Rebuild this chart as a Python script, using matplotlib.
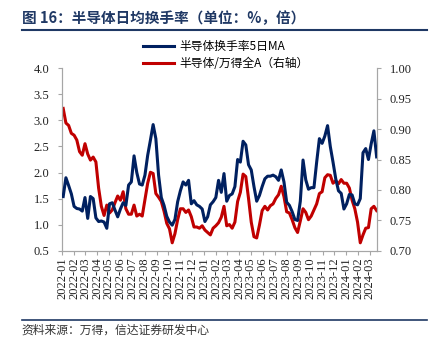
import numpy as np
import pandas as pd
import matplotlib
matplotlib.use('Agg')
import matplotlib.pyplot as plt
from matplotlib import dates as mdates
from matplotlib.lines import Line2D

plt.rcParams['font.family'] = ['Liberation Serif', 'Noto Sans CJK SC']

# weekly samples
week_start = '2022-01-04'
turnover_ma5 = [
    1.54, 1.90, 1.75, 1.59, 1.35, 1.31, 1.30, 1.26, 1.52, 1.12,
    1.54, 1.50, 1.13, 1.06, 1.07, 1.05, 0.93, 1.40, 1.42, 1.28,
    1.15, 1.30, 1.42, 1.37, 1.76, 1.82, 2.32, 2.00, 1.78, 1.76,
    1.95, 2.33, 2.62, 2.92, 2.65, 1.95, 1.52, 1.37, 1.16, 1.05,
    0.99, 1.10, 1.44, 1.65, 1.82, 1.76, 1.85, 1.40, 1.46, 1.38,
    1.35, 1.30, 1.06, 1.15, 1.38, 1.44, 1.52, 1.85, 1.62, 1.98,
    1.45, 1.56, 1.59, 1.73, 2.25, 2.20, 2.60, 2.53, 2.15, 2.05,
    1.73, 1.45, 1.56, 1.73, 1.88, 1.93, 1.93, 1.95, 1.92, 1.85,
    2.05, 1.82, 1.43, 1.37, 1.25, 1.10, 1.08, 1.45, 2.24, 1.86,
    1.68, 1.71, 1.71, 2.20, 2.65, 2.56, 2.70, 2.90, 2.50, 2.20,
    1.88, 1.65, 1.60, 1.30, 1.40, 1.58, 1.57, 1.40, 1.38, 1.50,
    2.38, 2.46, 2.25, 2.55, 2.80, 2.30,
]
ratio_vs_wind_a = [
    0.934, 0.910, 0.906, 0.893, 0.890, 0.882, 0.863, 0.857, 0.876, 0.859,
    0.849, 0.854, 0.846, 0.803, 0.773, 0.758, 0.775, 0.762, 0.767, 0.779,
    0.790, 0.783, 0.797, 0.769, 0.760, 0.760, 0.775, 0.757, 0.760, 0.757,
    0.784, 0.811, 0.829, 0.827, 0.794, 0.788, 0.781, 0.765, 0.745, 0.736,
    0.713, 0.728, 0.751, 0.769, 0.769, 0.763, 0.767, 0.756, 0.739, 0.739,
    0.737, 0.741, 0.734, 0.730, 0.726, 0.737, 0.741, 0.746, 0.755, 0.773,
    0.741, 0.743, 0.737, 0.747, 0.781, 0.796, 0.826, 0.822, 0.786, 0.747,
    0.723, 0.721, 0.742, 0.766, 0.773, 0.767, 0.774, 0.777, 0.786, 0.792,
    0.806, 0.789, 0.764, 0.762, 0.751, 0.738, 0.730, 0.749, 0.769, 0.763,
    0.751, 0.757, 0.767, 0.777, 0.794, 0.797, 0.820, 0.825, 0.824, 0.811,
    0.815, 0.810, 0.817, 0.811, 0.811, 0.803, 0.783, 0.769, 0.747, 0.713,
    0.726, 0.737, 0.738, 0.769, 0.773, 0.766,
]
left_ticks = [0.5, 1.0, 1.5, 2.0, 2.5, 3.0, 3.5, 4.0]
right_ticks = [0.70, 0.75, 0.80, 0.85, 0.90, 0.95, 1.00]
label_blue = '半导体换手率5日MA'
label_red = '半导体/万得全A（右轴）'
title = '图 16：半导体日均换手率（单位：%，倍）'
source = '资料来源：万得，信达证券研发中心'

t = pd.date_range(week_start, periods=len(turnover_ma5), freq='7D')

navy = '#002060'
red = '#c00000'
spine_c = '#a6a6a6'
cjk = ['Noto Sans CJK SC', 'DejaVu Sans']

fig = plt.figure(figsize=(4.34, 3.46), dpi=100)
ax = fig.add_axes([0.1429, 0.2754, 0.7258, 0.5272])
ax2 = ax.twinx()

ax.plot(t, turnover_ma5, color=navy, lw=2.2, zorder=3)
ax2.plot(t, ratio_vs_wind_a, color=red, lw=2.2)
ax.set_zorder(ax2.get_zorder() + 1)
ax.patch.set_visible(False)

ax.set_ylim(0.5, 4.0)
ax.set_yticks(left_ticks)
ax.set_yticklabels(['%.1f' % v for v in left_ticks])
ax2.set_ylim(0.70, 1.00)
ax2.set_yticks(right_ticks)
ax2.set_yticklabels(['%.2f' % v for v in right_ticks])

ax.set_xlim(pd.Timestamp('2022-01-01'), pd.Timestamp('2024-03-20'))
ax.xaxis.set_major_locator(mdates.MonthLocator())
ax.xaxis.set_major_formatter(mdates.DateFormatter('%Y-%m'))
for lab in ax.get_xticklabels():
    lab.set_rotation(90)

for a in (ax, ax2):
    a.spines['top'].set_visible(False)
    for s in ('left', 'right', 'bottom'):
        a.spines[s].set_color(spine_c)
        a.spines[s].set_linewidth(0.8)
    a.tick_params(axis='both', colors=spine_c, labelcolor='#222222',
                  labelsize=9, length=3, width=0.8)
ax.tick_params(axis='x', labelsize=9, pad=2)
ax.tick_params(axis='y', pad=6)
ax2.tick_params(axis='y', pad=6)

handles = [Line2D([], [], color=navy, lw=2.2), Line2D([], [], color=red, lw=2.2)]
fig.legend(handles, [label_blue, label_red], loc='upper left',
           bbox_to_anchor=(0.305, 0.915), frameon=False, handlelength=2.6,
           handletextpad=0.5, labelspacing=0.35, prop={'family': cjk, 'size': 8.5})

fig.text(0.05, 0.948, title, color='#1f3864', fontsize=10.5, fontweight='bold',
         family=cjk, va='center', ha='left')
fig.add_artist(Line2D([0.05, 0.985], [0.913, 0.913], color='#1f3864', lw=1.5,
                      transform=fig.transFigure))
fig.add_artist(Line2D([0.05, 0.985], [0.075, 0.075], color='#1f3864', lw=1.2,
                      transform=fig.transFigure))
fig.text(0.05, 0.045, source, color='#333333', fontsize=8.5, style='italic',
         family=cjk, va='center', ha='left')

fig.savefig('out.png', dpi=100)
